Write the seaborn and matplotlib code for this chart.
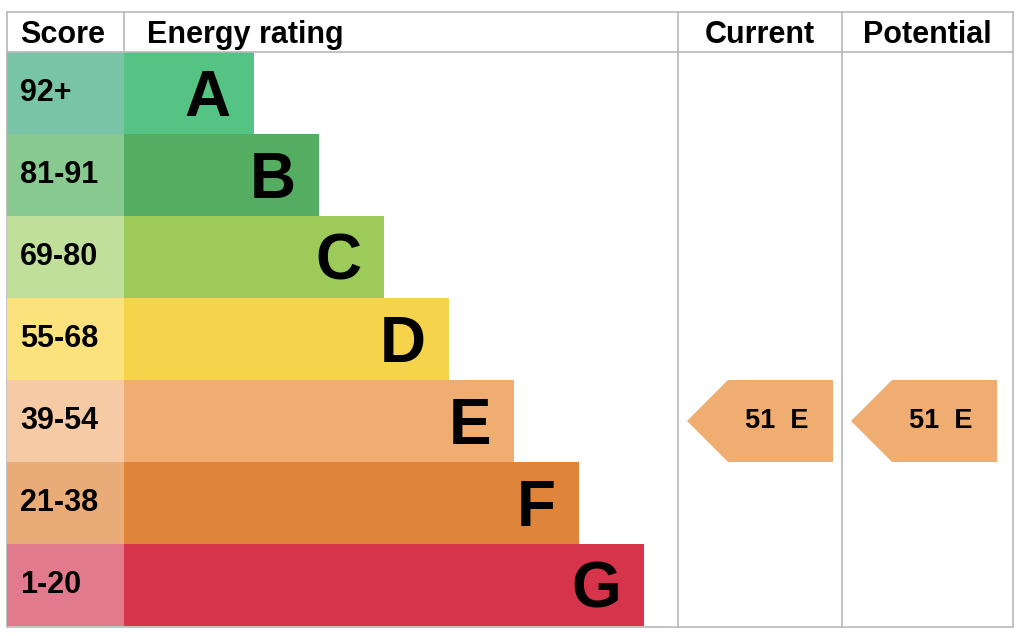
import pandas as pd
import matplotlib.pyplot as plt
from matplotlib.patches import Polygon
import seaborn as sns

# EPC bands
bands = ['A', 'B', 'C', 'D', 'E', 'F', 'G']
score_ranges = ['92+', '81-91', '69-80', '55-68', '39-54', '21-38', '1-20']
bar_lengths = [2, 3, 4, 5, 6, 7, 8]
bar_colors = ['#55c384', '#55ad61', '#9ccb5a', '#f5d44b', '#efad71', '#df843b', '#d6344a']
score_colors = ['#79c3a6', '#88c98f', '#bfdf9a', '#fbe27c', '#f6caa5', '#e9ab78', '#e27a8e']
ratings = {'Current': (51, 'E'), 'Potential': (51, 'E')}

# pixel layout helpers
PX = 65.0    # pixels per length unit
ROW = 82.0   # row height in pixels
def px_x(p):
    return (p - 124) / PX
def px_y(p):
    return (p - 93) / ROW

sns.set_style('white')
plt.rcParams['font.family'] = ['Liberation Sans', 'DejaVu Sans']
ink = '#000000'

fig = plt.figure(figsize=(10.24, 6.36), dpi=100)
ax = fig.add_axes([0, 0, 1, 1])

df = pd.DataFrame({'band': bands, 'length': bar_lengths, 'score': score_ranges})

# score column cells (drawn leftwards from 0)
df['score_w'] = px_x(7)
sns.barplot(data=df, x='score_w', y='band', hue='band', palette=score_colors,
            orient='h', width=1.0, saturation=1, legend=False, linewidth=0, ax=ax)
# rating bars
sns.barplot(data=df, x='length', y='band', hue='band', palette=bar_colors,
            orient='h', width=1.0, saturation=1, legend=False, linewidth=0, ax=ax)

ax.set_xlim(px_x(0), px_x(1024))
ax.set_ylim(px_y(636), px_y(0))
ax.axis('off')

for i, row in df.iterrows():
    ax.text(px_x(20), i, row['score'], ha='left', va='center',
            fontsize=22, fontweight='bold', color=ink)
    ax.text(row['length'] - 23 / PX, i + 0.07, row['band'], ha='right', va='center',
            fontsize=46, fontweight='bold', color=ink)

# grid lines
lc = '#b8b8b8'
lw = 1.2
ax.plot([px_x(7), px_x(1013)], [px_y(12)] * 2, color=lc, lw=lw)
ax.plot([px_x(7), px_x(1013)], [px_y(627)] * 2, color=lc, lw=lw)
ax.plot([px_x(7), px_x(1013)], [px_y(52)] * 2, color=lc, lw=lw)
ax.plot([px_x(7)] * 2, [px_y(12), px_y(627)], color=lc, lw=lw, zorder=0)
ax.plot([px_x(1013)] * 2, [px_y(12), px_y(627)], color=lc, lw=lw)
ax.plot([px_x(124)] * 2, [px_y(12), px_y(52)], color=lc, lw=lw)
col_edges = [678, 842, 1013]
for c in col_edges[:2]:
    ax.plot([px_x(c)] * 2, [px_y(12), px_y(627)], color=lc, lw=lw)

# headers
hy = px_y(35)
ax.text(px_x(20), hy, 'Score', ha='left', va='center', fontsize=22, fontweight='bold', color=ink)
ax.text(px_x(147), hy, 'Energy rating', ha='left', va='center', fontsize=22, fontweight='bold', color=ink)

# current / potential arrows
for k, (name, (score, band)) in enumerate(ratings.items()):
    left = col_edges[k]
    right = col_edges[k + 1]
    ax.text(px_x((left + right) / 2), hy, name, ha='center', va='center',
            fontsize=22, fontweight='bold', color=ink)
    r = bands.index(band)
    pts = [(px_x(left + 9), r), (px_x(left + 50), r - 0.5), (px_x(left + 155), r - 0.5),
           (px_x(left + 155), r + 0.5), (px_x(left + 50), r + 0.5)]
    ax.add_patch(Polygon(pts, closed=True, facecolor=bar_colors[r], edgecolor='none'))
    ax.text(px_x(left + 99), r, f'{score}  {band}', ha='center', va='center',
            fontsize=19.5, fontweight='bold', color=ink)

fig.savefig('out.png', dpi=100)
